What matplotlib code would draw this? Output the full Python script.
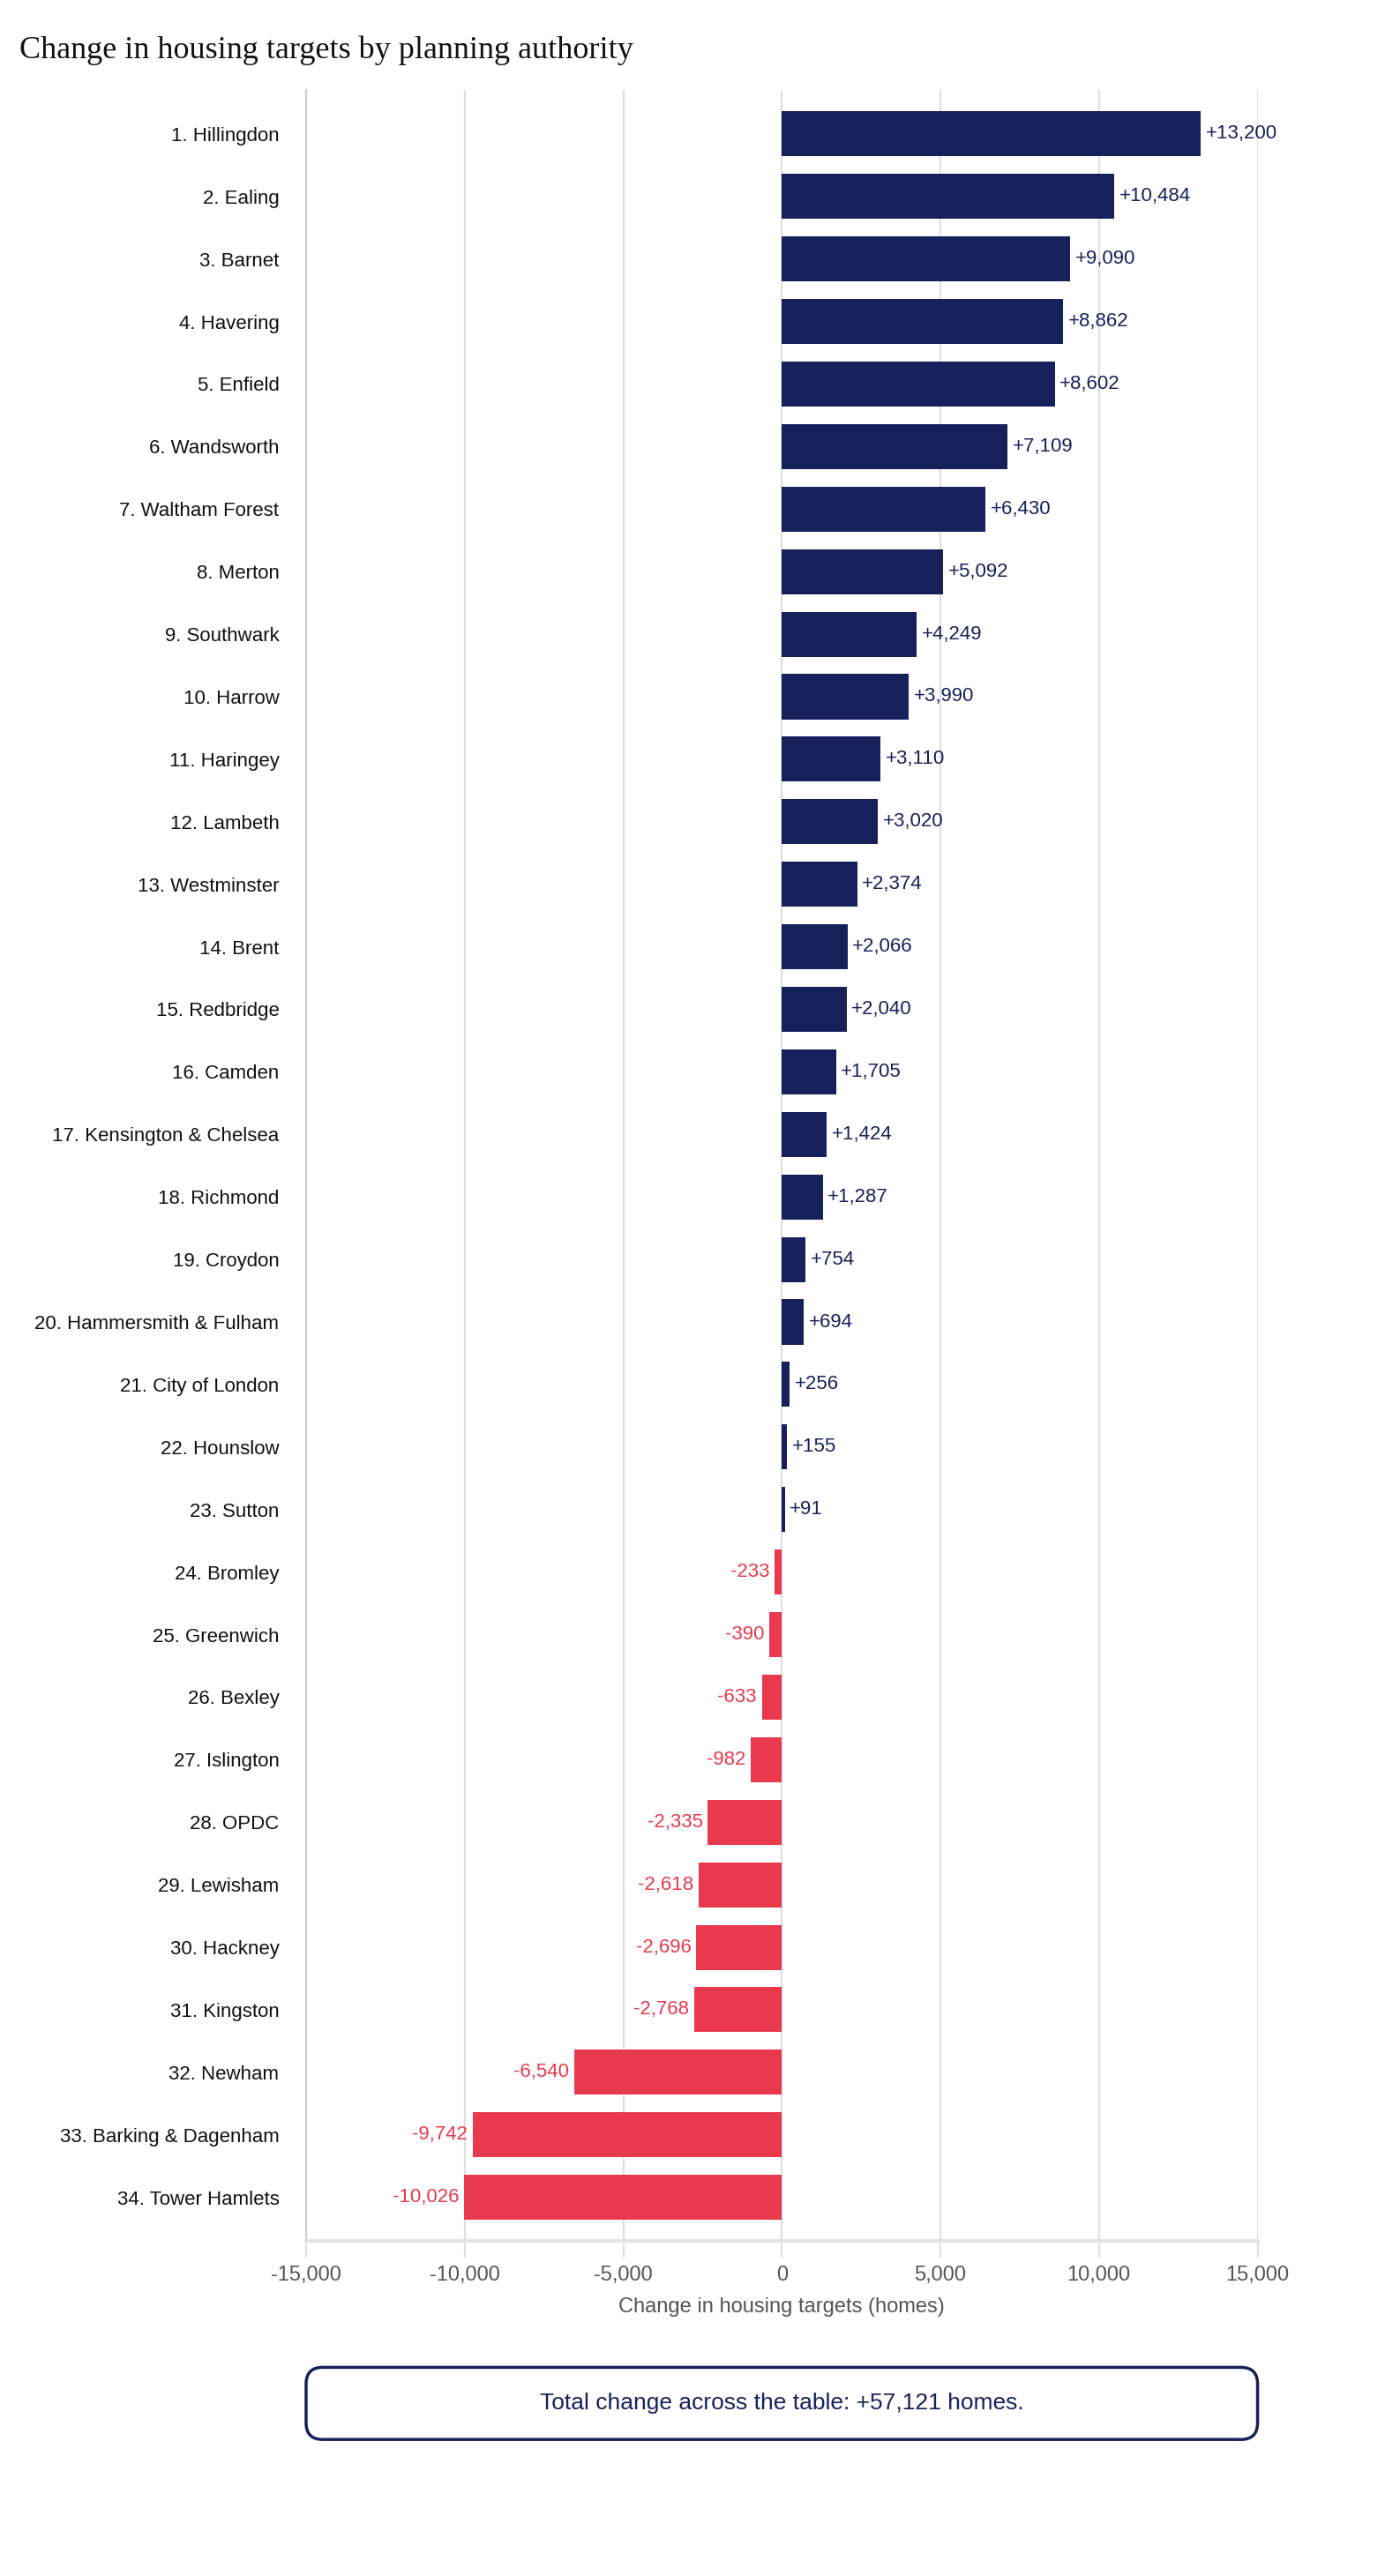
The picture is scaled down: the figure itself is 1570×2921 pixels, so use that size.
import matplotlib
matplotlib.use("Agg")
import matplotlib.pyplot as plt
from matplotlib.patches import FancyBboxPatch

names = ["Hillingdon","Ealing","Barnet","Havering","Enfield","Wandsworth","Waltham Forest","Merton",
         "Southwark","Harrow","Haringey","Lambeth","Westminster","Brent","Redbridge","Camden",
         "Kensington & Chelsea","Richmond","Croydon","Hammersmith & Fulham","City of London","Hounslow",
         "Sutton","Bromley","Greenwich","Bexley","Islington","OPDC","Lewisham","Hackney","Kingston",
         "Newham","Barking & Dagenham","Tower Hamlets"]
values = [13200,10484,9090,8862,8602,7109,6430,5092,4249,3990,3110,3020,2374,2066,2040,1705,1424,1287,
          754,694,256,155,91,-233,-390,-633,-982,-2335,-2618,-2696,-2768,-6540,-9742,-10026]
xticks = [-15000,-10000,-5000,0,5000,10000,15000]

NAVY = "#16215B"; RED = "#E8394D"
plt.rcParams['font.family'] = ['Liberation Sans', 'DejaVu Sans']
fig = plt.figure(figsize=(15.70, 29.21), dpi=100)
ax = fig.add_axes([0.221, 0.130, 0.687, 0.835])
n = len(names)
ys = list(range(n))
cols = [NAVY if v > 0 else RED for v in values]
ax.barh(ys, values, height=0.72, color=cols, zorder=3)
for y, v, c in zip(ys, values, cols):
    off = 160 if v > 0 else -160
    ax.text(v + off, y, f"{v:+,}", va="center", ha="left" if v > 0 else "right",
            color=c, fontsize=16, zorder=4)
ax.set_yticks(ys)
ax.set_yticklabels([f"{i+1}. {nm}" for i, nm in enumerate(names)], fontsize=16, color="#111111")
ax.set_ylim(n - 0.3, -0.7)
ax.set_xlim(-15000, 15000)
ax.set_xticks(xticks)
ax.set_xticklabels([f"{t:,}" for t in xticks], fontsize=17, color="#555555")
ax.grid(axis="x", color="#dedede", linewidth=1.5, zorder=0)
ax.tick_params(axis="y", length=0, pad=22)
ax.tick_params(axis="x", length=14, color="#dedede", width=1.5, pad=6)
for s in ["top", "right"]:
    ax.spines[s].set_visible(False)
ax.spines["left"].set_color("#cccccc"); ax.spines["left"].set_linewidth(1.5)
ax.spines["bottom"].set_color("#e3e3e3"); ax.spines["bottom"].set_linewidth(3)
ax.set_xlabel("Change in housing targets (homes)", fontsize=17, color="#555555", labelpad=10)

fig.text(0.014, 0.986, "Change in housing targets by planning authority", fontsize=26,
         family=["Liberation Serif", "DejaVu Serif"], va="top", ha="left", color="#111111")

box = FancyBboxPatch((0.221, 0.053), 0.687, 0.028, boxstyle="round,pad=0,rounding_size=0.012",
                     transform=fig.transFigure, facecolor="white", edgecolor=NAVY, linewidth=2.5,
                     mutation_aspect=1570/2921)
fig.patches.append(box)
total = sum(values)
fig.text(0.5645, 0.067, f"Total change across the table: {total:+,} homes.", fontsize=19,
         color=NAVY, ha="center", va="center")
fig.savefig("out.png", dpi=100, facecolor="white")
